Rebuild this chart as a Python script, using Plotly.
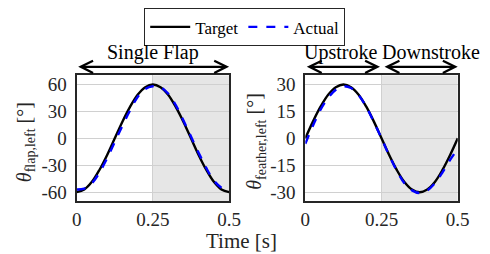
import plotly.graph_objects as go

time = [0.0, 0.025, 0.05, 0.075, 0.1, 0.125, 0.15, 0.175, 0.2, 0.225, 0.25,
        0.275, 0.3, 0.325, 0.35, 0.375, 0.4, 0.425, 0.45, 0.475, 0.5]

flap_target = [-60, -57, -48.5, -35, -18.5, 0, 18.5, 35, 48.5, 57, 60,
               57, 48.5, 35, 18.5, 0, -18.5, -35, -48.5, -57, -60]
flap_actual = [-57, -56, -50, -38, -22, -4, 14, 31, 46, 55, 58,
               57, 50, 37, 20, 2, -16, -33, -47, -55, -58]

feather_target = [0, 9.3, 17.6, 24.3, 28.5, 30, 28.5, 24.3, 17.6, 9.3, 0,
                  -9.3, -17.6, -24.3, -28.5, -30, -28.5, -24.3, -17.6, -9.3, 0]
feather_actual = [-3, 7, 16, 22.5, 27, 29, 28, 24, 17.5, 9, 0,
                  -9.5, -18, -25, -29, -30.5, -29, -25, -19, -12, -6]

x_ticks = [0, 0.25, 0.5]
x_ticklabels = ["0", "0.25", "0.5"]
flap_ticks = [-60, -30, 0, 30, 60]
flap_ticklabels = ["-60", "-30", "0", "30", "60"]
feather_ticks = [-30, -15, 0, 15, 30]
feather_ticklabels = ["-30", "-15", "0", "15", "30"]

# page body has an 8px margin; figure is sized to fit the 490x254 window
OFF = 8
W, H = 490 - OFF, 254 - OFF
FONT = "Liberation Serif, Times New Roman, serif"
TXT = "#262626"

def px(x):
    return (x - OFF) / W

def py(y):
    return 1 - (y - OFF) / H

fig = go.Figure()

fig.add_trace(go.Scatter(x=time, y=flap_target, mode="lines", name="Target",
                         line=dict(color="black", width=2.4, shape="spline"),
                         xaxis="x", yaxis="y"))
fig.add_trace(go.Scatter(x=time, y=flap_actual, mode="lines", name="Actual",
                         line=dict(color="#0000ff", width=2.4, dash="dash", shape="spline"),
                         xaxis="x", yaxis="y"))
fig.add_trace(go.Scatter(x=time, y=feather_target, mode="lines", name="Target",
                         line=dict(color="black", width=2.4, shape="spline"),
                         xaxis="x2", yaxis="y2", showlegend=False))
fig.add_trace(go.Scatter(x=time, y=feather_actual, mode="lines", name="Actual",
                         line=dict(color="#0000ff", width=2.4, dash="dash", shape="spline"),
                         xaxis="x2", yaxis="y2", showlegend=False))

ydom = [py(201), py(70)]
axis_common = dict(showline=True, linecolor="#262626", linewidth=2, mirror=True,
                   showgrid=True, gridcolor="#d0d0d0", gridwidth=1.2, zeroline=False,
                   ticks="", tickfont=dict(family=FONT, size=19, color=TXT))

fig.update_layout(
    width=W, height=H,
    margin=dict(l=0, r=0, t=0, b=0),
    paper_bgcolor="white", plot_bgcolor="white",
    font=dict(family=FONT, color="black"),
    xaxis=dict(domain=[px(74), px(232)], range=[0, 0.5], tickvals=x_ticks,
               ticktext=x_ticklabels, anchor="y", ticklabelstandoff=0, **axis_common),
    yaxis=dict(domain=ydom, range=[-70, 70], tickvals=flap_ticks,
               ticktext=flap_ticklabels, anchor="x",
               ticklabelstandoff=4, **axis_common),
    xaxis2=dict(domain=[px(311), px(469)], range=[0, 0.5], tickvals=x_ticks,
                ticktext=x_ticklabels, anchor="y2", ticklabelstandoff=0, **axis_common),
    yaxis2=dict(domain=ydom, range=[-35, 35], tickvals=feather_ticks,
                ticktext=feather_ticklabels, anchor="x2",
                ticklabelstandoff=4, **axis_common),
    legend=dict(orientation="h", x=px(144), y=py(0), xanchor="left", yanchor="top",
                bordercolor="#262626", borderwidth=1, bgcolor="white",
                font=dict(family=FONT, size=17, color="black"),
                itemwidth=40, tracegroupgap=0),
    showlegend=True,
)

for xr, yr in [("x", "y"), ("x2", "y2")]:
    fig.add_shape(type="rect", xref=xr, yref=yr + " domain", x0=0.25, x1=0.5, y0=0, y1=1,
                  fillcolor="#e6e6e6", line=dict(width=0), layer="below")

ann = []
title_font = dict(family=FONT, size=20, color="black")
ann.append(dict(text="Single Flap", xref="paper", x=px(153), yref="paper", y=py(46),
                xanchor="center", yanchor="middle", showarrow=False, font=title_font))
ann.append(dict(text="Upstroke", xref="paper", x=px(347.5), yref="paper", y=py(46),
                xanchor="center", yanchor="middle", showarrow=False, font=title_font))
ann.append(dict(text="Downstroke", xref="paper", x=px(441), yref="paper", y=py(46),
                xanchor="center", yanchor="middle", showarrow=False, font=title_font))
arrow_spans = [("x", 0.0, 0.5), ("x2", 0.0, 0.245), ("x2", 0.255, 0.5)]
for xr, a, b in arrow_spans:
    ann.append(dict(text="", xref=xr, x=b, axref=xr, ax=a, yref="paper", y=py(61),
                    ayref="pixel", ay=0, showarrow=True, arrowside="end+start",
                    arrowhead=5, startarrowhead=5, arrowsize=1, startarrowsize=1,
                    arrowwidth=2.4, arrowcolor="black", standoff=0, startstandoff=0))
label_font = dict(family=FONT, size=20, color=TXT)
ann.append(dict(text="<i>θ</i><sub>flap,left</sub> [°]", xref="paper", x=px(21),
                yref="paper", y=py(140), xanchor="center", yanchor="middle",
                textangle=-90, showarrow=False, font=label_font))
ann.append(dict(text="<i>θ</i><sub>feather,left</sub> [°]", xref="paper", x=px(260),
                yref="paper", y=py(139), xanchor="center", yanchor="middle",
                textangle=-90, showarrow=False, font=label_font))
ann.append(dict(text="Time [s]", xref="paper", x=px(245), yref="paper", y=py(243),
                xanchor="center", yanchor="middle", showarrow=False,
                font=dict(family=FONT, size=21, color=TXT)))

fig.update_layout(annotations=ann)

fig.write_html("out.html")
